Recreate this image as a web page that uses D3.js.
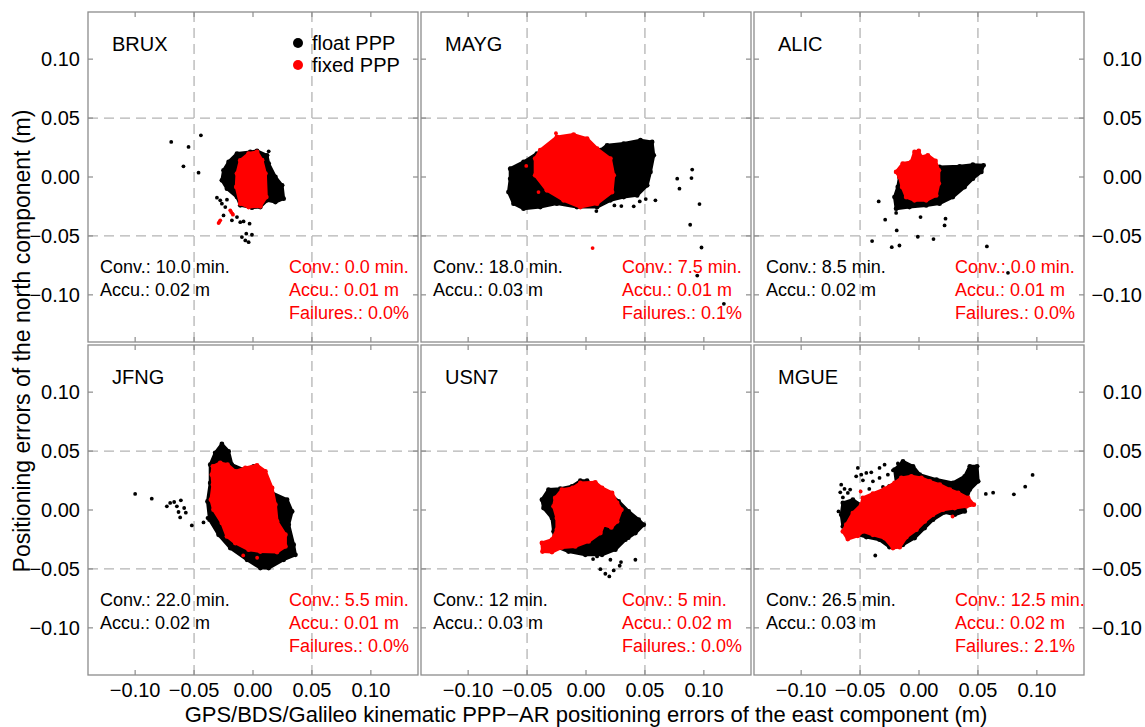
<!DOCTYPE html>
<html>
<head>
<meta charset="utf-8">
<script src="https://cdn.jsdelivr.net/npm/d3@7"></script>
<style>
  body { margin: 0; background: #fff; }
  text { font-family: "Liberation Sans", Arial, Helvetica, sans-serif; }
</style>
</head>
<body>
<svg id="chart" width="1145" height="727"></svg>
<script>
// axis ticks (m)
var xTicks = [-0.10, -0.05, 0.00, 0.05, 0.10];
var yTicks = [-0.10, -0.05, 0.00, 0.05, 0.10];
var gridValues = [-0.05, 0.05];

// per-station summary numbers
var stations = ['BRUX', 'MAYG', 'ALIC', 'JFNG', 'USN7', 'MGUE'];
var floatConv = ['10.0 min.', '18.0 min.', '8.5 min.', '22.0 min.', '12 min.', '26.5 min.'];
var floatAccu = ['0.02 m', '0.03 m', '0.02 m', '0.02 m', '0.03 m', '0.03 m'];
var fixedConv = ['0.0 min.', '7.5 min.', '0.0 min.', '5.5 min.', '5 min.', '12.5 min.'];
var fixedAccu = ['0.01 m', '0.01 m', '0.01 m', '0.01 m', '0.02 m', '0.02 m'];
var fixedFail = ['0.0%', '0.1%', '0.0%', '0.0%', '0.0%', '2.1%'];

// dense point clouds, traced as outlines [east, north]; loose points listed one by one
var bruxFloatCloud = [[-0.0136,0.0199],[-0.0023,0.0213],[0.0034,0.0221],[0.0119,0.0184],[0.0133,0.0114],[0.019,0],[0.0247,-0.0071],[0.026,-0.0184],[0.019,-0.0213],[0.0119,-0.0198],[0.0062,-0.0255],[-0.0009,-0.026],[-0.0108,-0.024],[-0.0136,-0.017],[-0.0221,-0.0099],[-0.0264,-0.0028],[-0.025,0.0057],[-0.0207,0.0128]];
var bruxFloatPts = [[-0.0694,0.0298],[-0.0442,0.0354],[-0.0547,0.0255],[-0.059,0.0091],[-0.0462,0.0037],[0.0133,0.0218],[-0.0306,-0.0175],[-0.0278,-0.0198],[-0.0264,-0.0226],[-0.0221,-0.0192],[-0.0235,-0.0255],[-0.025,-0.0326],[-0.0179,-0.0368],[-0.0136,-0.034],[-0.0108,-0.0383],[-0.008,-0.0377],[-0.0029,-0.0396],[-0.0057,-0.0481],[-0.0009,-0.049],[-0.0094,-0.051],[-0.0065,-0.0538],[-0.0037,-0.0553],[0.024,-0.0071],[0.019,-0.0198]];
var bruxFixedCloud = [[-0.0108,0.0141],[-0.0037,0.0199],[0.0034,0.0213],[0.0077,0.0142],[0.0105,0.0029],[0.0113,-0.017],[0.0062,-0.0249],[-0.0037,-0.0255],[-0.0108,-0.0226],[-0.0142,-0.0085],[-0.0136,0.0029]];
var bruxFixedPts = [[-0.0193,-0.0283],[-0.017,-0.032],[-0.0185,-0.0298],[-0.0175,-0.031],[-0.0278,-0.0368],[-0.0292,-0.0391],[-0.0285,-0.038]];

var maygFloatCloud = [[-0.0643,0.0071],[-0.053,0.0128],[-0.0417,0.0199],[-0.0303,0.0241],[0.0122,0.0227],[0.0179,0.0269],[0.032,0.0284],[0.0462,0.0312],[0.0561,0.0298],[0.0575,0.0184],[0.0547,0.0043],[0.0519,-0.0071],[0.0434,-0.0156],[0.032,-0.017],[0.0207,-0.0198],[0.0094,-0.0255],[-0.0077,-0.0255],[-0.0247,-0.0226],[-0.0388,-0.0255],[-0.053,-0.0269],[-0.0615,-0.0226],[-0.0658,-0.0128],[-0.0643,-0.0014]];
var maygFloatPts = [[0.0774,-0.0014],[0.0901,0.0063],[0.0793,-0.0099],[0.0895,-0.0009],[0.0963,-0.023],[0.0884,-0.0405],[0.098,-0.0598],[0.0944,-0.0836],[0.117,-0.1076],[0.0241,-0.0241],[0.03,-0.0247],[0.0405,-0.0249],[0.0456,-0.0207],[0.0507,-0.0187],[0.0589,-0.0198],[0.0088,-0.0289]];
var maygFixedCloud = [[-0.0388,0.0227],[-0.0247,0.034],[-0.0105,0.036],[0.0009,0.0326],[0.0094,0.0241],[0.0207,0.0156],[0.0235,0.0014],[0.0221,-0.0128],[0.0094,-0.0226],[-0.0048,-0.0255],[-0.019,-0.0198],[-0.0332,-0.0113],[-0.0431,0.0014],[-0.0431,0.0156]];
var maygFixedPts = [[0.0056,-0.0603],[-0.0507,0.0094],[-0.0403,-0.0128],[-0.0255,0.0372]];

var alicFloatCloud = [[0.0174,0.0085],[0.0344,0.0091],[0.0457,0.0105],[0.0548,0.0099],[0.0529,0.0043],[0.0457,-0.0014],[0.0387,-0.0085],[0.0287,-0.017],[0.0174,-0.0226],[0.0061,-0.0241],[-0.0081,-0.0255],[-0.0194,-0.0269],[-0.0208,-0.017],[-0.018,-0.0085],[-0.0166,0]];
var alicFloatPts = [[-0.0342,-0.0207],[-0.0287,-0.0362],[0.0013,-0.034],[0.0225,-0.0354],[0.0217,-0.0411],[-0.0189,-0.0453],[-0.0398,-0.0544],[-0.0231,-0.0595],[-0.0166,-0.0581],[-0.001,-0.0507],[0.0123,-0.0527],[0.0576,-0.0589],[0.0755,-0.0813],[-0.0194,-0.0305]];
var alicFixedCloud = [[-0.0194,0.0043],[-0.0138,0.0114],[-0.0066,0.0128],[-0.0038,0.0213],[-0.0002,0.0221],[0.0019,0.017],[0.0075,0.0184],[0.014,0.0136],[0.0168,0.0057],[0.0168,-0.0056],[0.0146,-0.0156],[0.0061,-0.0198],[-0.0038,-0.0198],[-0.0109,-0.017],[-0.0143,-0.0085],[-0.0166,0]];
var alicFixedPts = [];

var jfngFloatCloud = [[-0.0264,0.0561],[-0.0207,0.0498],[-0.0179,0.0385],[-0.008,0.0343],[0.0005,0.0371],[0.009,0.0328],[0.0162,0.0145],[0.0289,0.0088],[0.0332,-0.0012],[0.0303,-0.0125],[0.0345,-0.0295],[0.036,-0.038],[0.026,-0.0422],[0.0133,-0.0493],[0.0062,-0.0493],[-0.0051,-0.0422],[-0.0193,-0.0323],[-0.0292,-0.021],[-0.0369,-0.0082],[-0.0386,0.0073],[-0.0363,0.023],[-0.0363,0.0385],[-0.0321,0.0485]];
var jfngFloatPts = [[-0.1,0.0136],[-0.0859,0.0096],[-0.0731,0.0031],[-0.0703,0.006],[-0.0669,0.0068],[-0.0646,0.0031],[-0.0612,0.0082],[-0.0584,0.0017],[-0.0632,-0.0017],[-0.057,-0.0023],[-0.0618,-0.0063],[-0.0519,-0.0131],[-0.042,-0.0105],[-0.0386,-0.0068],[-0.0306,-0.0131],[-0.0335,0.0275],[-0.027,0.02],[-0.03,0.012]];
var jfngFixedCloud = [[-0.034,0.0371],[-0.0278,0.04],[-0.0216,0.0385],[-0.015,0.0328],[-0.0065,0.0357],[0.0034,0.0379],[0.0105,0.0328],[0.0162,0.0187],[0.019,0.0045],[0.0204,-0.0097],[0.0275,-0.021],[0.0275,-0.0309],[0.0204,-0.0357],[0.0062,-0.0352],[-0.0037,-0.0337],[-0.015,-0.028],[-0.0221,-0.0224],[-0.0264,-0.011],[-0.0335,0.0003],[-0.0357,0.0088],[-0.034,0.0215],[-0.0349,0.03]];
var jfngFixedPts = [[-0.0083,-0.0385],[0.0035,-0.0405]];

var usn7FloatCloud = [[-0.0374,0.0088],[-0.0318,0.0173],[-0.0218,0.0181],[-0.0119,0.0201],[-0.0048,0.0249],[0.0009,0.0249],[0.0065,0.0201],[0.0192,0.0145],[0.0277,0.0073],[0.0362,-0.0012],[0.0447,-0.0082],[0.049,-0.0125],[0.0419,-0.0196],[0.0334,-0.0252],[0.0249,-0.0337],[0.0136,-0.038],[-0.0006,-0.038],[-0.0148,-0.0352],[-0.0261,-0.0309],[-0.0275,-0.0182],[-0.0289,-0.0068],[-0.036,0.0017]];
var usn7FloatPts = [[0.0122,-0.0502],[0.0164,-0.0541],[0.0198,-0.0564],[0.0235,-0.0513],[0.0286,-0.0473],[0.0297,-0.0442],[0.0419,-0.0422],[0.006,-0.0416],[0.0094,-0.0394],[0.0207,-0.0422],[0.0362,-0.0238]];
var usn7FixedCloud = [[-0.0261,0.0102],[-0.0204,0.0173],[-0.0114,0.0187],[-0.0048,0.023],[0.0079,0.0235],[0.0136,0.0187],[0.0221,0.0145],[0.0264,0.006],[0.03,0.0003],[0.0264,-0.0097],[0.0215,-0.0148],[0.015,-0.0125],[0.0122,-0.0196],[0.0022,-0.0267],[-0.0091,-0.0309],[-0.0204,-0.0318],[-0.0289,-0.0357],[-0.0369,-0.0352],[-0.0374,-0.028],[-0.0289,-0.0252],[-0.0247,-0.0167],[-0.0247,-0.0068],[-0.0275,0.0031]];
var usn7FixedPts = [];

var mgueFloatCloud = [[-0.0646,0.006],[-0.0561,0.0088],[-0.0476,0.0031],[-0.0362,0.0116],[-0.025,0.0201],[-0.0192,0.023],[-0.0207,0.0343],[-0.0136,0.0413],[-0.0051,0.0371],[0.0006,0.03],[0.0148,0.0258],[0.0289,0.023],[0.0388,0.0286],[0.0431,0.0371],[0.0493,0.0371],[0.0502,0.0243],[0.0431,0.0173],[0.0403,0.0088],[0.0388,-0.0012],[0.0303,-0.004],[0.0218,-0.002],[0.0119,-0.0082],[0.0048,-0.0153],[-0.0037,-0.0238],[-0.0136,-0.0295],[-0.025,-0.0315],[-0.0335,-0.0252],[-0.0447,-0.023],[-0.0561,-0.0196],[-0.0646,-0.0139],[-0.066,-0.004]];
var mgueFloatPts = [[0.0567,0.0136],[0.0629,0.0147],[0.0805,0.0133],[0.0901,0.0198],[0.0964,0.0298],[-0.0371,-0.0386],[-0.066,0.0215],[-0.0632,0.0179],[-0.0604,0.0145],[-0.0668,0.015],[-0.0646,0.0107],[-0.0519,0.0357],[-0.049,0.03],[-0.0447,0.0315],[-0.0405,0.032],[-0.0335,0.0357],[-0.0292,0.0385],[-0.0391,0.0243],[-0.0335,0.0272],[-0.0264,0.03],[-0.0221,0.0337],[-0.0476,0.0252],[-0.0533,0.0286],[-0.0584,0.0173],[-0.0306,0.0196],[-0.0422,0.0179],[-0.0683,-0.0012],[-0.0179,0.0395]];
var mgueFixedCloud = [[-0.0646,-0.0182],[-0.0617,-0.0125],[-0.0561,-0.0026],[-0.049,0.0045],[-0.0476,0.0102],[-0.0391,0.0139],[-0.0292,0.0179],[-0.0207,0.023],[-0.015,0.0272],[-0.0065,0.0286],[0.002,0.0272],[0.0091,0.0243],[0.0176,0.0215],[0.0261,0.0173],[0.0332,0.0145],[0.0417,0.0102],[0.0465,0.0045],[0.0403,0.0031],[0.0303,0.0017],[0.0204,0.0003],[0.0119,-0.004],[0.0048,-0.0097],[-0.0022,-0.0167],[-0.0107,-0.023],[-0.0164,-0.0315],[-0.0221,-0.0323],[-0.0292,-0.0238],[-0.0391,-0.021],[-0.0476,-0.0182],[-0.0519,-0.0219],[-0.0604,-0.0247]];
var mgueFixedPts = [[0.0285,-0.0055],[-0.0495,0.0157]];

var floatClouds = [bruxFloatCloud, maygFloatCloud, alicFloatCloud, jfngFloatCloud, usn7FloatCloud, mgueFloatCloud];
var floatPoints = [bruxFloatPts, maygFloatPts, alicFloatPts, jfngFloatPts, usn7FloatPts, mgueFloatPts];
var fixedClouds = [bruxFixedCloud, maygFixedCloud, alicFixedCloud, jfngFixedCloud, usn7FixedCloud, mgueFixedCloud];
var fixedPoints = [bruxFixedPts, maygFixedPts, alicFixedPts, jfngFixedPts, usn7FixedPts, mgueFixedPts];

var FLOAT_COLOR = '#000000', FIXED_COLOR = '#ff0000';
var FRAME_COLOR = '#8c8c8c', GRID_COLOR = '#b4b4b4';

var svg = d3.select('#chart');
var panelW = 330, panelH = 330;
var colLeft = [88, 421, 754], rowTop = [12, 345];

var xScale = d3.scaleLinear().domain([-0.14, 0.14]).range([0, panelW]);
var yScale = d3.scaleLinear().domain([-0.14, 0.14]).range([panelH, 0]);

var fmt = function(d) {
  return (d < 0 ? '\u2212' : '') + Math.abs(d).toFixed(2);
};

var cloudLine = d3.line()
  .x(function(d) { return xScale(d[0]); })
  .y(function(d) { return yScale(d[1]); })
  .curve(d3.curveLinearClosed);

function drawSet(g, cloud, pts, color) {
  g.append('path')
    .datum(cloud)
    .attr('d', cloudLine)
    .attr('fill', color)
    .attr('stroke', color)
    .attr('stroke-width', 3)
    .attr('stroke-linejoin', 'round');
  // ragged rim of the cloud
  g.selectAll(null).data(cloud).enter().append('circle')
    .attr('cx', function(d) { return xScale(d[0]); })
    .attr('cy', function(d) { return yScale(d[1]); })
    .attr('r', 2.4)
    .attr('fill', color);
  g.selectAll(null).data(pts).enter().append('circle')
    .attr('cx', function(d) { return xScale(d[0]); })
    .attr('cy', function(d) { return yScale(d[1]); })
    .attr('r', 1.9)
    .attr('fill', color);
}

stations.forEach(function(name, i) {
  var col = i % 3, row = Math.floor(i / 3);
  var g = svg.append('g')
    .attr('transform', 'translate(' + colLeft[col] + ',' + rowTop[row] + ')');

  // dashed grid at +/-0.05
  g.selectAll('line.vgrid').data(gridValues).enter().append('line')
    .attr('class', 'vgrid')
    .attr('x1', function(d) { return xScale(d); })
    .attr('x2', function(d) { return xScale(d); })
    .attr('y1', 0).attr('y2', panelH)
    .attr('stroke', GRID_COLOR).attr('stroke-width', 1.3)
    .attr('stroke-dasharray', '10,6');
  g.selectAll('line.hgrid').data(gridValues).enter().append('line')
    .attr('class', 'hgrid')
    .attr('y1', function(d) { return yScale(d); })
    .attr('y2', function(d) { return yScale(d); })
    .attr('x1', 0).attr('x2', panelW)
    .attr('stroke', GRID_COLOR).attr('stroke-width', 1.3)
    .attr('stroke-dasharray', '10,6');

  drawSet(g, floatClouds[i], floatPoints[i], FLOAT_COLOR);
  drawSet(g, fixedClouds[i], fixedPoints[i], FIXED_COLOR);

  // frame with inward ticks on all sides
  g.append('rect')
    .attr('x', 0).attr('y', 0)
    .attr('width', panelW).attr('height', panelH)
    .attr('fill', 'none')
    .attr('stroke', FRAME_COLOR).attr('stroke-width', 1.3);

  var tickLen = 5;
  xTicks.forEach(function(t) {
    g.append('line').attr('x1', xScale(t)).attr('x2', xScale(t))
      .attr('y1', 0).attr('y2', tickLen)
      .attr('stroke', FRAME_COLOR).attr('stroke-width', 1.2);
    g.append('line').attr('x1', xScale(t)).attr('x2', xScale(t))
      .attr('y1', panelH).attr('y2', panelH - tickLen)
      .attr('stroke', FRAME_COLOR).attr('stroke-width', 1.2);
  });
  yTicks.forEach(function(t) {
    g.append('line').attr('y1', yScale(t)).attr('y2', yScale(t))
      .attr('x1', 0).attr('x2', tickLen)
      .attr('stroke', FRAME_COLOR).attr('stroke-width', 1.2);
    g.append('line').attr('y1', yScale(t)).attr('y2', yScale(t))
      .attr('x1', panelW).attr('x2', panelW - tickLen)
      .attr('stroke', FRAME_COLOR).attr('stroke-width', 1.2);
  });

  // tick labels only on the outer panels
  if (col === 0) {
    g.selectAll('text.ylab').data(yTicks).enter().append('text')
      .attr('class', 'ylab')
      .attr('x', -8).attr('y', function(d) { return yScale(d) + 7; })
      .attr('text-anchor', 'end').attr('font-size', 20)
      .text(fmt);
  }
  if (col === 2) {
    g.selectAll('text.ylab').data(yTicks).enter().append('text')
      .attr('class', 'ylab')
      .attr('x', 388).attr('y', function(d) { return yScale(d) + 7; })
      .attr('text-anchor', 'end').attr('font-size', 20)
      .text(fmt);
  }
  if (row === 1) {
    g.selectAll('text.xlab').data(xTicks).enter().append('text')
      .attr('class', 'xlab')
      .attr('x', function(d) { return xScale(d); })
      .attr('y', panelH + 22)
      .attr('text-anchor', 'middle').attr('font-size', 20)
      .text(fmt);
  }

  g.append('text')
    .attr('x', 24).attr('y', 39)
    .attr('font-size', 20)
    .text(name);

  var statSize = 18;
  g.append('text').attr('x', 12).attr('y', 261).attr('font-size', statSize)
    .attr('fill', FLOAT_COLOR).text('Conv.: ' + floatConv[i]);
  g.append('text').attr('x', 12).attr('y', 284).attr('font-size', statSize)
    .attr('fill', FLOAT_COLOR).text('Accu.: ' + floatAccu[i]);
  g.append('text').attr('x', 201).attr('y', 261).attr('font-size', statSize)
    .attr('fill', FIXED_COLOR).text('Conv.: ' + fixedConv[i]);
  g.append('text').attr('x', 201).attr('y', 284).attr('font-size', statSize)
    .attr('fill', FIXED_COLOR).text('Accu.: ' + fixedAccu[i]);
  g.append('text').attr('x', 201).attr('y', 307).attr('font-size', statSize)
    .attr('fill', FIXED_COLOR).text('Failures.: ' + fixedFail[i]);

  // legend lives in the first panel
  if (i === 0) {
    var legend = [['float PPP', FLOAT_COLOR], ['fixed PPP', FIXED_COLOR]];
    legend.forEach(function(l, k) {
      g.append('circle').attr('cx', 210).attr('cy', 31 + k * 22)
        .attr('r', 5).attr('fill', l[1]);
      g.append('text').attr('x', 224).attr('y', 38 + k * 22)
        .attr('font-size', 20).text(l[0]);
    });
  }
});

svg.append('text')
  .attr('x', 586).attr('y', 722)
  .attr('text-anchor', 'middle').attr('font-size', 22)
  .text('GPS/BDS/Galileo kinematic PPP\u2212AR positioning errors of the east component (m)');

svg.append('text')
  .attr('transform', 'translate(30,341) rotate(-90)')
  .attr('text-anchor', 'middle').attr('font-size', 23)
  .text('Positioning errors of the north component (m)');
</script>
</body>
</html>
